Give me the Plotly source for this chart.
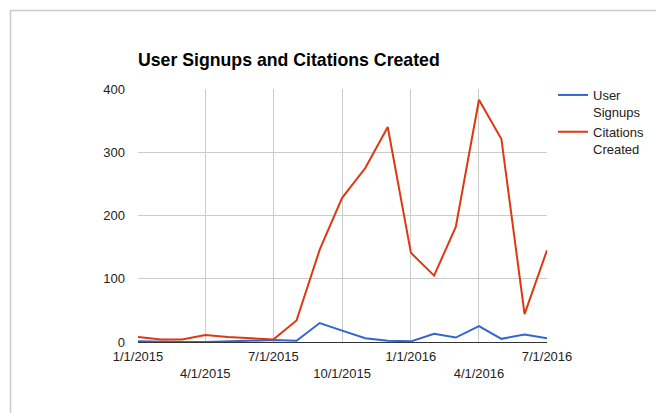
import plotly.graph_objects as go

months = ["2015-01-01", "2015-02-01", "2015-03-01", "2015-04-01", "2015-05-01", "2015-06-01",
          "2015-07-01", "2015-08-01", "2015-09-01", "2015-10-01", "2015-11-01", "2015-12-01",
          "2016-01-01", "2016-02-01", "2016-03-01", "2016-04-01", "2016-05-01", "2016-06-01",
          "2016-07-01"]
user_signups = [1, 0, 0, 0, 1, 2, 3, 2, 30, 18, 6, 2, 1, 13, 7, 25, 5, 12, 6]
citations_created = [8, 4, 4, 11, 8, 6, 4, 34, 146, 228, 275, 340, 141, 105, 182, 383, 321, 44, 145]

tick_dates = ["2015-01-01", "2015-04-01", "2015-07-01", "2015-10-01", "2016-01-01", "2016-04-01", "2016-07-01"]
tick_labels = ["1/1/2015", "4/1/2015", "7/1/2015", "10/1/2015", "1/1/2016", "4/1/2016", "7/1/2016"]
y_ticks = [0, 100, 200, 300, 400]

font_family = "Arial, Liberation Sans, sans-serif"

fig = go.Figure()
fig.add_trace(go.Scatter(x=months, y=user_signups, mode="lines", name="User<br>Signups",
                         legendgroup="a", line=dict(color="#3366cc", width=2)))
fig.add_trace(go.Scatter(x=months, y=citations_created, mode="lines", name="Citations<br>Created",
                         legendgroup="b", line=dict(color="#dc3912", width=2)))

OFF = 8  # page body margin
W, H = 664 - OFF, 413 - OFF
# target pixel positions in the window
PL, PR, PT, PB = 138, 547, 89, 342
L, R, T, B = PL - OFF, 664 - PR, PT - OFF, 413 - PB
pw, ph = W - L - R, H - T - B

def px_x(p):
    return (p - PL) / (PR - PL)

def px_y(p):
    return (PB - p) / (PB - PT)

staggered = [t if i % 2 == 0 else "<br>" + t for i, t in enumerate(tick_labels)]

fig.update_layout(
    width=W, height=H,
    margin=dict(l=L, r=R, t=T, b=B, pad=0),
    paper_bgcolor="white", plot_bgcolor="white",
    font=dict(family=font_family, size=13, color="#222222"),
    title=dict(text="<b>User Signups and Citations Created</b>", xref="container", yref="container",
               x=(138 - OFF) / W, xanchor="left",
               y=1 - (60 - OFF) / H, yanchor="middle", font=dict(size=17.7, color="#000000")),
    showlegend=True,
    legend=dict(x=px_x(553), y=px_y(80), xanchor="left", yanchor="top", valign="top",
                font=dict(size=13, color="#222222"), tracegroupgap=0, bgcolor="rgba(0,0,0,0)"),
    xaxis=dict(type="date", range=["2015-01-01", "2016-07-01"], tickvals=tick_dates, ticktext=staggered,
               showgrid=True, gridcolor="#cccccc", gridwidth=1, zeroline=False, showline=False,
               tickfont=dict(size=13, color="#222222"), ticks="", ticklabelstandoff=5, fixedrange=True),
    yaxis=dict(range=[0, 400], tickvals=y_ticks, showgrid=True, gridcolor="#cccccc", gridwidth=1,
               zeroline=True, zerolinecolor="#333333", zerolinewidth=1, showline=False,
               tickfont=dict(size=13, color="#222222"), ticks="", ticklabelstandoff=12, fixedrange=True),
    hovermode=False,
    shapes=[
        dict(type="line", xref="paper", yref="paper", x0=px_x(10.5), x1=px_x(10.5), y0=px_y(10), y1=px_y(413),
             line=dict(color="#cccccc", width=1.5)),
        dict(type="line", xref="paper", yref="paper", x0=px_x(10), x1=px_x(664), y0=px_y(10.5), y1=px_y(10.5),
             line=dict(color="#cccccc", width=1.5)),
    ],
)

fig.write_html("out.html", config=dict(displayModeBar=False))
